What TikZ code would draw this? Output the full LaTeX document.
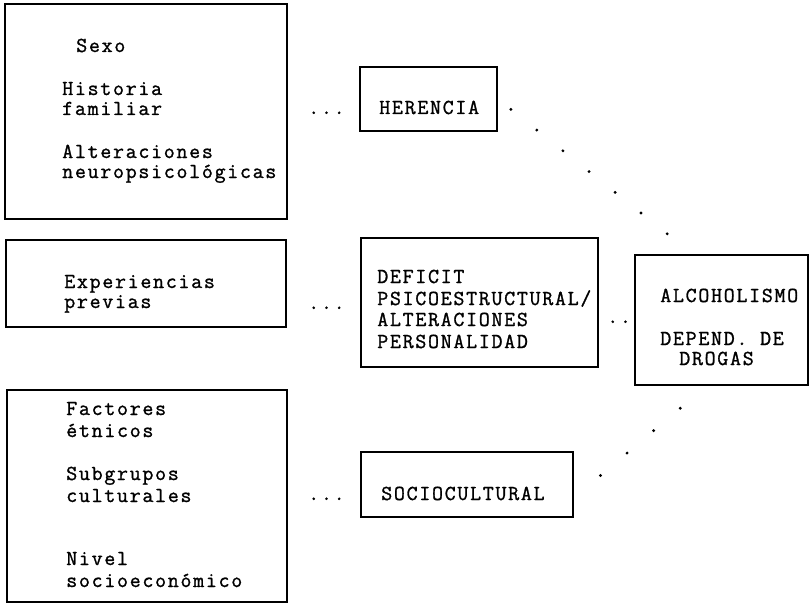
\documentclass[tikz,border=0pt]{standalone}
\usepackage{fontspec}
\usetikzlibrary{fit,calc}
\newfontfamily\dotfamily{Latin Modern Mono}[FakeBold=1.2,LetterSpace=8]
\newcommand\dotfont{\dotfamily\fontsize{16}{15}\selectfont}
\tikzset{
  box/.style={draw, line width=1.3pt, inner sep=0pt},
  txt/.style={anchor=base west, inner sep=0pt, font=\dotfont},
  dotfill/.style={fill=black}
}
\begin{document}
\begin{tikzpicture}[x=0.75pt, y=-0.75pt]
\useasboundingbox (0,0) rectangle (809,606);
% boxes
\node[box, fit={(5,4) (287,219)}] (B1) {};
\node[box, fit={(6,240) (286,327)}] (B2) {};
\node[box, fit={(7,390) (287,602)}] (B3) {};
\node[box, fit={(360,67) (497,131)}] (HER) {};
\node[box, fit={(361,238) (598,367)}] (DEF) {};
\node[box, fit={(635,255) (808,385)}] (ALC) {};
\node[box, fit={(361,452) (573,517)}] (SOC) {};
% box 1 text
\node[txt] (t1) at (76,52) {Sexo};
\node[txt] (t2) at (62,95) {Historia};
\node[txt] (t3) at (62,115) {familiar};
\node[txt] (t4) at (62,158) {Alteraciones};
\node[txt] (t5) at (62,178) {neuropsicológicas};
% box 2 text
\node[txt] (t6) at (64,288) {Experiencias};
\node[txt] (t7) at (64,308) {previas};
% box 3 text
\node[txt] (t8) at (66,415) {Factores};
\node[txt] (t9) at (66,437) {étnicos};
\node[txt] (t10) at (66,480) {Subgrupos};
\node[txt] (t11) at (66,502) {culturales};
\node[txt] (t12) at (66,565) {Nivel};
\node[txt] (t13) at (66,587) {socioeconómico};
% ellipses
\node[txt] (e1) at (308,114) {...};
\node[txt] (e2) at (308,309) {...};
\node[txt] (e3) at (308,500) {...};
\node[txt] (e4) at (607,323) {..};
% middle boxes text
\node[txt] (h1) at (379,114) {HERENCIA};
\node[txt] (d1) at (377,283) {DEFICIT};
\node[txt] (d2) at (377,305) {PSICOESTRUCTURAL/};
\node[txt] (d3) at (377,326) {ALTERACIONES};
\node[txt] (d4) at (377,348) {PERSONALIDAD};
\node[txt] (s1) at (381,500) {SOCIOCULTURAL};
% right box text
\node[txt] (a1) at (660,302) {ALCOHOLISMO};
\node[txt] (a2) at (660,345) {DEPEND. DE};
\node[txt] (a3) at (679,365) {DROGAS};
% dotted connectors
\coordinate (p1) at ($(ALC.north west)!0.335!(ALC.north east)$);
\foreach \t in {0.067,0.2,0.334,0.468,0.602,0.735,0.869}
  \fill[dotfill] ($(HER.east)!\t!(p1)$) circle (1.2pt);
\coordinate (p2) at ($(ALC.south west)!0.416!(ALC.south east)$);
\coordinate (p3) at ($(SOC.north east)!0.7!(SOC.south east)$);
\foreach \t in {0.2,0.4,0.6,0.8}
  \fill[dotfill] ($(p2)!\t!(p3)$) circle (1.2pt);
\end{tikzpicture}
\end{document}
